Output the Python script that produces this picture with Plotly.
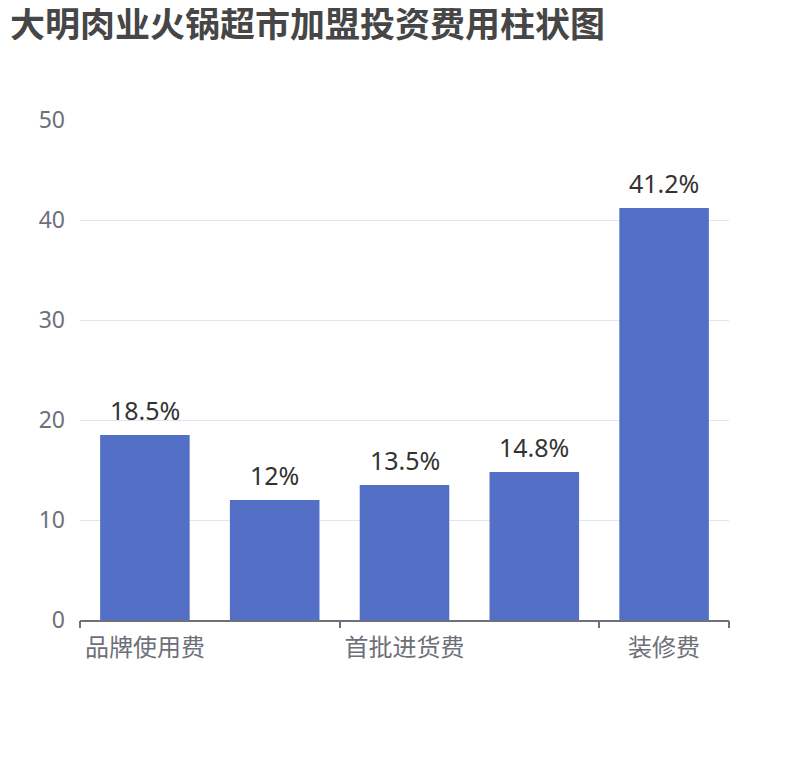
import plotly.graph_objects as go

# 加盟投资费用 (万元) - bar values and the percent labels shown above them
categories = ["品牌使用费", "保证金", "首批进货费", "设备费", "装修费"]
values = [18.5, 12, 13.5, 14.8, 41.2]
value_labels = ["18.5%", "12%", "13.5%", "14.8%", "41.2%"]
shown_ticks = ["品牌使用费", "首批进货费", "装修费"]
y_ticks = [0, 10, 20, 30, 40, 50]

AXIS_GREY = "#6E7079"

fig = go.Figure()
fig.add_trace(go.Bar(
    x=categories,
    y=values,
    marker=dict(color="#5470C6", line=dict(width=0)),
    hoverinfo="x+y",
))

# value labels sit a bit higher above the bars than plotly's "outside" text
for cat, val, lab in zip(categories, values, value_labels):
    fig.add_annotation(
        x=cat, y=val, text=lab, showarrow=False,
        yanchor="bottom", yshift=6,
        font=dict(size=25, color="#333333", family="Noto Sans"),
    )

# invisible numeric axis only used for the boundary tick marks
fig.add_trace(go.Scatter(
    x=[-0.5, 4.5], y=[0, 0], xaxis="x2", mode="markers",
    marker=dict(opacity=0), hoverinfo="skip", showlegend=False,
))

fig.update_layout(
    width=810,
    height=760,
    # page body adds 8px, so margins are trimmed to land where the reference is
    margin=dict(l=72, r=89, t=112, b=148),
    plot_bgcolor="white",
    paper_bgcolor="white",
    font=dict(family="Noto Sans, Noto Sans CJK SC, sans-serif", color=AXIS_GREY),
    showlegend=False,
    bargap=0.31,
    title=dict(
        text="<b>大明肉业火锅超市加盟投资费用柱状图</b>",
        font=dict(family="Noto Sans CJK SC", size=35, color="#464646"),
        x=2 / 810, xanchor="left",
        y=1 - 4 / 760, yanchor="top", yref="container",
    ),
    xaxis=dict(
        type="category",
        tickvals=shown_ticks,
        ticktext=shown_ticks,
        ticks="",
        showline=True,
        linecolor=AXIS_GREY,
        linewidth=1.5,
        showgrid=False,
        tickfont=dict(size=24, color=AXIS_GREY, family="Noto Sans CJK SC"),
        ticklabelstandoff=5,
        range=[-0.5, 4.5],
        fixedrange=True,
    ),
    xaxis2=dict(
        overlaying="x",
        anchor="y",
        side="bottom",
        range=[-0.5, 4.5],
        tickvals=[-0.5, 1.5, 3.5, 4.5],
        ticks="outside",
        ticklen=7,
        tickwidth=1.5,
        tickcolor=AXIS_GREY,
        showticklabels=False,
        showgrid=False,
        zeroline=False,
        showline=False,
    ),
    yaxis=dict(
        range=[0, 50],
        tickvals=y_ticks,
        gridcolor="#E0E6F1",
        gridwidth=1,
        zeroline=False,
        tickfont=dict(size=23, color=AXIS_GREY),
        ticklabelstandoff=14,
        fixedrange=True,
    ),
)

fig.write_html("out.html")
